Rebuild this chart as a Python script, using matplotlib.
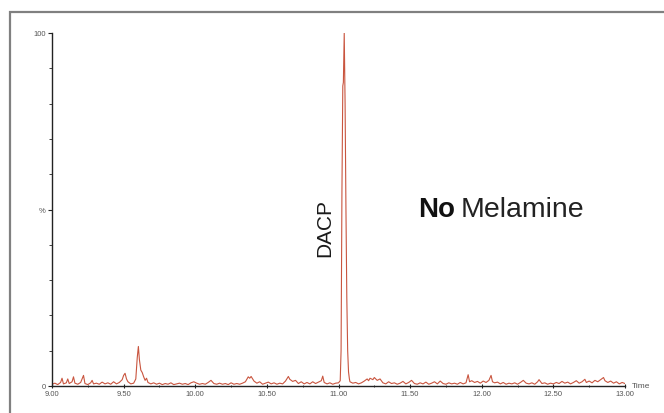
"""Chromatogram: DACP peak, no melamine detected."""

import matplotlib

matplotlib.use("Agg")
import matplotlib.pyplot as plt
import numpy as np
from matplotlib.patches import Rectangle

# (retention time [min], relative intensity [%])
trace_pre_dacp = [
    (9.00, 0.5), (9.02, 0.8), (9.04, 0.4), (9.06, 1.0), (9.07, 2.2), (9.08, 0.6),
    (9.10, 0.9), (9.11, 2.0), (9.12, 0.7), (9.14, 1.2), (9.15, 2.6), (9.16, 0.8),
    (9.18, 0.5), (9.20, 1.0), (9.22, 3.0), (9.23, 0.7), (9.25, 0.4), (9.27, 0.9),
    (9.28, 1.6), (9.29, 0.6), (9.31, 0.8), (9.33, 0.5), (9.35, 1.1), (9.37, 0.6),
    (9.39, 0.9), (9.41, 0.5), (9.43, 1.2), (9.45, 0.6), (9.47, 1.0), (9.49, 1.8),
    (9.50, 3.0), (9.51, 3.6), (9.52, 2.0), (9.53, 1.2), (9.55, 0.6), (9.57, 0.8),
    (9.585, 2.0), (9.595, 8.0), (9.603, 11.2), (9.61, 7.5), (9.62, 4.5), (9.63, 3.8),
    (9.64, 2.6), (9.65, 1.6), (9.66, 2.2), (9.67, 1.0), (9.69, 0.6), (9.71, 0.9),
    (9.73, 0.5), (9.75, 0.8), (9.77, 0.4), (9.79, 0.7), (9.81, 0.5), (9.83, 0.9),
    (9.85, 0.4), (9.87, 0.6), (9.89, 0.8), (9.91, 0.5), (9.93, 0.7), (9.95, 0.4),
    (9.97, 0.9), (9.99, 1.2), (10.01, 0.8), (10.03, 0.5), (10.05, 0.7), (10.07, 0.5),
    (10.09, 1.0), (10.11, 1.6), (10.13, 0.7), (10.15, 0.5), (10.17, 0.8), (10.19, 0.5),
    (10.21, 0.7), (10.23, 0.4), (10.25, 0.9), (10.27, 0.5), (10.29, 0.7), (10.31, 0.5),
    (10.33, 0.8), (10.35, 1.2), (10.37, 2.6), (10.38, 2.2), (10.39, 2.7), (10.41, 1.4),
    (10.43, 0.8), (10.45, 1.2), (10.47, 0.5), (10.49, 0.8), (10.51, 1.1), (10.53, 0.6),
    (10.55, 0.9), (10.57, 0.5), (10.59, 0.8), (10.61, 0.6), (10.63, 1.4), (10.65, 2.7),
    (10.66, 1.9), (10.68, 1.3), (10.70, 1.6), (10.72, 0.7), (10.74, 1.2), (10.76, 0.6),
    (10.78, 1.0), (10.80, 0.6), (10.82, 1.2), (10.84, 0.7), (10.86, 1.1), (10.88, 1.5),
    (10.89, 2.8), (10.90, 1.0), (10.92, 0.6), (10.94, 0.9), (10.96, 0.5), (10.98, 0.8),
    (11.00, 0.9), (11.006, 1.2),
]
trace_dacp = [
    (11.012, 1.5), (11.018, 10.0), (11.024, 55.0), (11.030, 85.0), (11.034, 86.0),
    (11.040, 100.0), (11.046, 80.0), (11.052, 50.0), (11.058, 25.0), (11.064, 10.0),
    (11.070, 4.0), (11.076, 2.0),
]
trace_post_dacp = [
    (11.08, 1.2), (11.10, 0.8), (11.12, 1.0), (11.14, 0.6), (11.16, 0.9), (11.18, 1.4),
    (11.20, 2.0), (11.21, 1.5), (11.22, 2.2), (11.24, 1.8), (11.25, 2.4), (11.27, 1.6),
    (11.29, 2.0), (11.31, 0.9), (11.33, 0.6), (11.35, 1.2), (11.37, 0.7), (11.39, 0.9),
    (11.41, 0.5), (11.43, 0.8), (11.45, 1.3), (11.47, 0.6), (11.49, 1.0), (11.51, 1.6),
    (11.53, 0.7), (11.55, 0.5), (11.57, 0.9), (11.59, 0.6), (11.61, 1.1), (11.63, 0.5),
    (11.65, 0.8), (11.67, 1.2), (11.69, 0.6), (11.71, 1.4), (11.73, 0.7), (11.75, 0.5),
    (11.77, 0.9), (11.79, 0.6), (11.81, 0.8), (11.83, 0.5), (11.85, 1.0), (11.87, 0.6),
    (11.89, 0.9), (11.905, 3.2), (11.915, 1.2), (11.93, 1.5), (11.95, 1.0), (11.97, 1.3),
    (11.99, 0.8), (12.01, 1.4), (12.03, 1.0), (12.05, 1.6), (12.065, 3.0), (12.075, 1.2),
    (12.09, 0.9), (12.11, 1.1), (12.13, 0.6), (12.15, 1.0), (12.17, 0.5), (12.19, 0.8),
    (12.21, 0.6), (12.23, 0.9), (12.25, 0.5), (12.27, 1.0), (12.29, 1.6), (12.31, 0.8),
    (12.33, 0.6), (12.35, 0.9), (12.37, 0.5), (12.39, 1.2), (12.40, 1.8), (12.42, 0.7),
    (12.44, 0.9), (12.46, 0.5), (12.48, 0.8), (12.50, 0.6), (12.52, 1.0), (12.54, 0.7),
    (12.56, 1.3), (12.58, 0.8), (12.60, 1.1), (12.62, 0.6), (12.64, 1.0), (12.66, 1.5),
    (12.68, 0.8), (12.70, 1.2), (12.72, 1.9), (12.73, 1.0), (12.75, 1.4), (12.77, 0.9),
    (12.79, 1.6), (12.81, 1.2), (12.83, 1.8), (12.85, 2.4), (12.86, 1.5), (12.88, 1.0),
    (12.90, 1.4), (12.92, 0.8), (12.94, 1.2), (12.96, 0.6), (12.98, 1.0), (13.00, 0.7),
]

x_major = [9.00, 9.50, 10.00, 10.50, 11.00, 11.50, 12.00, 12.50, 13.00]
x_labels = ["9.00", "9.50", "10.00", "10.50", "11.00", "11.50", "12.00", "12.50", "13.00"]
y_major = [0, 50, 100]
y_labels = ["0", "%", "100"]

TRACE_COLOUR = "#c9553f"
TICK_COLOUR = "#555555"

plt.rcParams["font.family"] = ["Liberation Sans", "DejaVu Sans"]

trace = np.array(trace_pre_dacp + trace_dacp + trace_post_dacp)

fig = plt.figure(figsize=(6.64, 4.14), dpi=100)
ax = fig.add_axes([52 / 664, 27 / 414, 573 / 664, 353 / 414])

# grey frame around the figure (open on the clipped right/bottom edges)
fig.patches.append(
    Rectangle((10 / 664, -0.1), 1.2, 1.1 - 13.5 / 414,
              transform=fig.transFigure, fill=False, edgecolor="#808080",
              linewidth=1.6)
)

ax.plot(trace[:, 0], trace[:, 1], color=TRACE_COLOUR, linewidth=0.8)

ax.set_xlim(9.0, 13.0)
ax.set_ylim(0, 100)
for side in ("top", "right"):
    ax.spines[side].set_visible(False)
for side in ("left", "bottom"):
    ax.spines[side].set_linewidth(1.0)
    ax.spines[side].set_color("#222222")

ax.set_xticks(x_major, x_labels)
ax.set_xticks(np.arange(9.0, 13.01, 0.25), minor=True)
ax.set_yticks(y_major, y_labels)
ax.set_yticks(np.arange(0, 101, 10), minor=True)
ax.tick_params(axis="both", which="major", length=3, width=0.8, color="#222222",
               labelsize=5.5, labelcolor=TICK_COLOUR, pad=1.5)
ax.tick_params(axis="both", which="minor", length=2, width=0.6, color="#222222")
ax.tick_params(axis="x", which="both", direction="inout")

ax.annotate("Time", xy=(1, 0), xycoords="axes fraction", xytext=(5, 0),
            textcoords="offset points", ha="left", va="center", fontsize=6,
            color=TICK_COLOUR)

ax.text(10.905, 45, "DACP", rotation=90, ha="center", va="center", fontsize=15,
        color="#1a1a1a")
no_txt = ax.text(11.556, 50, "No", ha="left", va="center", fontsize=20,
                 fontweight="bold", color="#111111")
ax.annotate("Melamine", xy=(1, 0.5), xycoords=no_txt, xytext=(4, 0),
            textcoords="offset points", ha="left", va="center", fontsize=20.5,
            color="#222222")

fig.savefig("out.png", dpi=100)
